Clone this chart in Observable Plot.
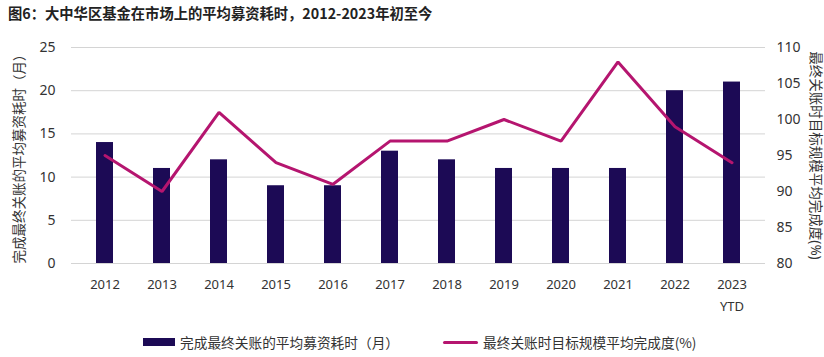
<!DOCTYPE html>
<html><head><meta charset="utf-8">
<script src="https://cdn.jsdelivr.net/npm/d3@7"></script>
<script src="https://cdn.jsdelivr.net/npm/@observablehq/plot@0.6"></script>
<style>
body{margin:0;background:#fff;width:824px;height:357px;overflow:hidden;position:relative;font-family:"Noto Sans","Noto Sans CJK SC",sans-serif;}
#title{position:absolute;left:8px;top:0;height:26px;line-height:26px;font-size:14.3px;font-weight:bold;color:#222;font-family:"Noto Sans CJK SC",sans-serif;}
#chart{position:absolute;left:0;top:28px;}
#legend{position:absolute;top:332px;left:0;width:824px;height:20px;font-size:13.7px;color:#333;font-family:"Noto Sans CJK SC",sans-serif;}
.sw{position:absolute;}
.lt{position:absolute;top:0;line-height:20px;white-space:nowrap;}
</style></head>
<body>
<div id="title">图6：大中华区基金在市场上的平均募资耗时，2012-2023年初至今</div>
<div id="chart"></div>
<div id="legend">
  <div class="sw" style="left:143px;top:6px;width:32px;height:8px;background:#1c0a55"></div>
  <div class="lt" style="left:180px">完成最终关账的平均募资耗时（月）</div>
  <div class="sw" style="left:443px;top:9px;width:35px;height:3px;background:#b5156f;border-radius:1.5px"></div>
  <div class="lt" style="left:483px">最终关账时目标规模平均完成度(%)</div>
</div>
<script>
const years = ["2012","2013","2014","2015","2016","2017","2018","2019","2020","2021","2022","2023"];
const yearLabels = ["2012","2013","2014","2015","2016","2017","2018","2019","2020","2021","2022","2023\nYTD"];
const months = [14,11,12,9,9,13,12,11,11,11,20,21];
const completion = [95,90,101,94,91,97,97,100,97,108,99,94];
const leftTicks = [0,5,10,15,20,25];
const rightTicks = [80,85,90,95,100,105,110];
const leftTitle = "完成最终关账的平均募资耗时（月）";
const rightTitle = "最终关账时目标规模平均完成度(%)";

const toLeft = v => (v - 80) * 25 / 30;
const bars = years.map((y,i)=>({year:y, v:months[i]}));
const line = years.map((y,i)=>({year:y, v:toLeft(completion[i])}));
const labelOf = Object.fromEntries(years.map((y,i)=>[y,yearLabels[i]]));

const plot = Plot.plot({
  width: 824, height: 290,
  marginLeft: 71, marginRight: 59, marginTop: 19, marginBottom: 55,
  style: {fontFamily: '"Noto Sans","Noto Sans CJK SC",sans-serif', fontSize: "13px", color: "#333"},
  x: {domain: years, paddingInner: 0.7, paddingOuter: 0.35},
  y: {domain: [0, 25]},
  marks: [
    Plot.gridY(leftTicks, {stroke: "#d4d4d4", strokeOpacity: 1, strokeWidth: 1}),
    Plot.barY(bars, {x: "year", y: "v", fill: "#1c0a55"}),
    Plot.line(line, {x: "year", y: "v", stroke: "#b5156f", strokeWidth: 3, strokeLinejoin: "miter"}),
    Plot.axisY(leftTicks, {anchor: "left", tickSize: 0, tickPadding: 16, label: null, fontSize: 14}),
    Plot.axisY(rightTicks.map(toLeft), {anchor: "right", tickSize: 0, tickPadding: 11, label: null, fontSize: 14,
      tickFormat: d => String(Math.round(d * 30 / 25 + 80))}),
    Plot.axisX({tickSize: 0, tickPadding: 10, label: null, fontSize: 13, lineHeight: 1.7, tickFormat: d => labelOf[d]}),
    Plot.text([leftTitle], {frameAnchor: "left", textAnchor: "middle", dx: -52, rotate: -90, fontSize: 13.5, fill: "#333", text: d => d}),
    Plot.text([rightTitle], {frameAnchor: "right", textAnchor: "middle", dx: 50, rotate: 90, fontSize: 13.5, fill: "#333", text: d => d})
  ]
});
document.getElementById("chart").appendChild(plot);
</script>
</body></html>
